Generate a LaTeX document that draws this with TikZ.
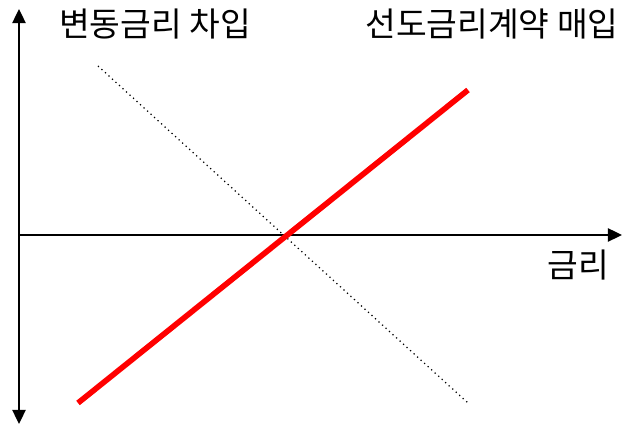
\documentclass[tikz,border=0pt]{standalone}
\usepackage{fontspec}
\setmainfont{Noto Sans CJK KR}
\usetikzlibrary{arrows.meta,positioning}
\definecolor{ink}{HTML}{000000}
\definecolor{hedge}{HTML}{FF0000}

\begin{document}
\begin{tikzpicture}[x=0.02cm,y=0.02cm,font=\fontsize{19}{22}\selectfont,>={Triangle[length=8pt,width=7.5pt]}]
\useasboundingbox (0,0) rectangle (622,425);
% axes
\coordinate (vtop) at (19,416);
\coordinate (vbot) at (19,1);
\coordinate (horig) at (19,190);
\coordinate (hend) at (622,190);
\draw[ink,line width=1.1pt,<->] (vbot) -- (vtop);
\draw[ink,line width=1.1pt,->] (horig) -- (hend);
% positions
\coordinate (fra0) at (78,22);
\coordinate (fra1) at (468,335);
\coordinate (loan0) at (98,359);
\coordinate (loan1) at (468,22);
\draw[ink,dotted,line width=0.7pt] (loan0) -- (loan1);
\draw[hedge,line width=3.2pt] (fra0) -- (fra1);
% labels
\node (loan) at (155,401) {변동금리 차입};
\node (fra) at (492,401) {선도금리계약 매입};
\node (rate) at (578,160) {금리};
\end{tikzpicture}
\end{document}
